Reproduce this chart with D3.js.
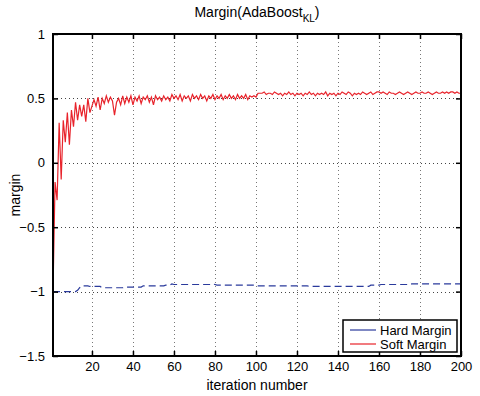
<!DOCTYPE html>
<html><head><meta charset="utf-8">
<script src="https://cdn.jsdelivr.net/npm/d3@7"></script>
<style>body{margin:0;background:#fff}svg{display:block;font-family:"Liberation Sans",Arial,sans-serif}</style>
</head><body>
<svg id="c" width="480" height="396"></svg>
<script>
const softMargin = [
-1.0,-0.15,-0.29,0.31,-0.13,0.33,0.16,0.39,0.14,0.41,0.28,0.47,0.33,0.45,0.36,0.45,0.32,0.50,0.39,0.44,
0.49,0.44,0.51,0.41,0.50,0.46,0.52,0.47,0.51,0.48,0.37,0.47,0.50,0.45,0.52,0.46,0.51,0.47,0.52,0.45,
0.51,0.48,0.52,0.46,0.51,0.49,0.52,0.47,0.51,0.45,0.52,0.49,0.51,0.48,0.52,0.49,0.51,0.48,0.53,0.50,
0.52,0.49,0.53,0.48,0.52,0.50,0.52,0.48,0.53,0.50,0.52,0.49,0.53,0.50,0.52,0.48,0.52,0.50,0.53,0.49,
0.52,0.50,0.53,0.49,0.52,0.50,0.53,0.50,0.52,0.49,0.53,0.50,0.52,0.50,0.53,0.49,0.52,0.51,0.52,0.51,
0.54,0.54,0.54,0.55,0.53,0.54,0.54,0.53,0.55,0.54,0.53,0.54,0.52,0.54,0.53,0.55,0.53,0.54,0.52,0.54,
0.53,0.54,0.52,0.54,0.53,0.55,0.53,0.54,0.52,0.54,0.53,0.54,0.53,0.55,0.52,0.54,0.53,0.54,0.52,0.54,
0.53,0.55,0.54,0.53,0.55,0.54,0.52,0.54,0.53,0.54,0.53,0.55,0.54,0.53,0.54,0.55,0.53,0.54,0.55,0.55,
0.54,0.55,0.54,0.53,0.55,0.54,0.54,0.53,0.54,0.55,0.54,0.53,0.54,0.55,0.54,0.53,0.54,0.55,0.54,0.54,
0.55,0.54,0.54,0.55,0.54,0.53,0.54,0.55,0.54,0.54,0.55,0.54,0.55,0.54,0.55,0.55,0.54,0.55,0.54,0.54
];
const hardMargin = [
-1.0,-1.0,-1.0,-1.0,-1.0,-1.0,-1.0,-1.0,-1.0,-1.0,-1.0,-1.0,-0.99,-0.97,-0.955,-0.955,-0.955,-0.955,-0.96,-0.96,
-0.96,-0.96,-0.96,-0.96,-0.97,-0.97,-0.97,-0.97,-0.97,-0.97,-0.97,-0.97,-0.97,-0.97,-0.97,-0.965,-0.965,-0.965,-0.965,-0.965,
-0.965,-0.965,-0.965,-0.965,-0.955,-0.955,-0.955,-0.955,-0.955,-0.955,-0.955,-0.955,-0.955,-0.955,-0.955,-0.95,-0.95,-0.95,-0.94,-0.945,
-0.945,-0.945,-0.945,-0.945,-0.945,-0.945,-0.945,-0.945,-0.945,-0.945,-0.945,-0.945,-0.945,-0.945,-0.945,-0.945,-0.945,-0.945,-0.94,-0.945,
-0.95,-0.95,-0.95,-0.95,-0.95,-0.95,-0.95,-0.95,-0.95,-0.95,-0.95,-0.95,-0.95,-0.95,-0.95,-0.95,-0.95,-0.95,-0.95,-0.95,
-0.955,-0.955,-0.955,-0.955,-0.955,-0.955,-0.955,-0.955,-0.955,-0.955,-0.955,-0.955,-0.955,-0.955,-0.955,-0.955,-0.955,-0.955,-0.955,-0.955,
-0.955,-0.955,-0.955,-0.955,-0.955,-0.96,-0.96,-0.96,-0.96,-0.96,-0.96,-0.96,-0.96,-0.96,-0.96,-0.96,-0.96,-0.96,-0.96,-0.96,
-0.96,-0.96,-0.96,-0.96,-0.96,-0.96,-0.96,-0.96,-0.96,-0.96,-0.96,-0.96,-0.96,-0.96,-0.96,-0.95,-0.95,-0.95,-0.95,-0.95,
-0.945,-0.945,-0.945,-0.945,-0.945,-0.945,-0.945,-0.945,-0.945,-0.945,-0.945,-0.945,-0.945,-0.945,-0.945,-0.94,-0.94,-0.94,-0.94,-0.94,
-0.94,-0.94,-0.94,-0.94,-0.94,-0.94,-0.94,-0.94,-0.94,-0.94,-0.94,-0.94,-0.94,-0.94,-0.94,-0.94,-0.94,-0.94,-0.94,-0.94
];
const xTicks = [20,40,60,80,100,120,140,160,180,200];
const yTicks = [-1.5,-1,-0.5,0,0.5,1];
const seriesNames = ["Hard Margin","Soft Margin"];
const seriesColors = ["#2a3a9c","#e8232b"];

const L=53,R=461,T=34,B=356;
const svg=d3.select("#c");
const x=d3.scaleLinear().domain([1,200]).range([L,R]);
const y=d3.scaleLinear().domain([-1.5,1]).range([B,T]);

// grid
const g=svg.append("g");
g.selectAll("line.vg").data(xTicks.filter(d=>d<200)).join("line")
 .attr("x1",d=>Math.round(x(d))+0.5).attr("x2",d=>Math.round(x(d))+0.5).attr("y1",T).attr("y2",B)
 .attr("stroke","#777").attr("stroke-dasharray","1,3");
g.selectAll("line.hg").data(yTicks.filter(d=>d>-1.5&&d<1)).join("line")
 .attr("y1",d=>Math.round(y(d))+0.5).attr("y2",d=>Math.round(y(d))+0.5).attr("x1",L).attr("x2",R)
 .attr("stroke","#444").attr("stroke-dasharray","1,3");

// series
const line=d3.line().x((d,i)=>x(i+1)).y(d=>y(d));
svg.append("path").datum(hardMargin).attr("d",line).attr("fill","none")
 .attr("stroke",seriesColors[0]).attr("stroke-width",1.2).attr("stroke-dasharray","7,4");
svg.append("path").datum(softMargin).attr("d",line).attr("fill","none")
 .attr("stroke",seriesColors[1]).attr("stroke-width",1.2);

// axes
const fs=13;
const xb=svg.append("g").attr("transform",`translate(0,${B})`)
 .call(d3.axisBottom(x).tickValues(xTicks).tickSizeInner(-5).tickSizeOuter(0).tickPadding(6));
const xt=svg.append("g").attr("transform",`translate(0,${T})`)
 .call(d3.axisTop(x).tickValues(xTicks).tickSizeInner(-5).tickSizeOuter(0).tickFormat(""));
const yl=svg.append("g").attr("transform",`translate(${L},0)`)
 .call(d3.axisLeft(y).tickValues(yTicks).tickSizeInner(-5).tickSizeOuter(0).tickPadding(8).tickFormat(d3.format("")));
const yr=svg.append("g").attr("transform",`translate(${R},0)`)
 .call(d3.axisRight(y).tickValues(yTicks).tickSizeInner(-5).tickSizeOuter(0).tickFormat(""));
[xb,xt,yl,yr].forEach(a=>{
 a.select(".domain").remove();
 a.selectAll("line").attr("stroke","#000").attr("stroke-width",1.5);
 a.selectAll("text").attr("font-size",fs).attr("font-family","Liberation Sans, Arial, sans-serif").attr("fill","#000");
});
svg.append("rect").attr("x",L).attr("y",T).attr("width",R-L).attr("height",B-T)
 .attr("fill","none").attr("stroke","#000").attr("stroke-width",2);

// labels
svg.append("text").attr("x",(L+R)/2).attr("y",390).attr("text-anchor","middle").attr("font-size",14).text("iteration number");
svg.append("text").attr("transform",`translate(20,${(T+B)/2}) rotate(-90)`).attr("text-anchor","middle").attr("font-size",14).text("margin");
const title=svg.append("text").attr("x",(L+R)/2).attr("y",17).attr("text-anchor","middle").attr("font-size",14);
title.append("tspan").text("Margin(AdaBoost");
title.append("tspan").attr("dy",5).attr("font-size",10).text("KL");
title.append("tspan").attr("dy",-5).text(")");

// legend
const lg=svg.append("g");
lg.append("rect").attr("x",343).attr("y",320).attr("width",114).attr("height",32).attr("fill","#fff").attr("stroke","#000").attr("stroke-width",1.5);
seriesNames.forEach((n,i)=>{
 const yy=330+i*14;
 lg.append("line").attr("x1",350).attr("x2",376).attr("y1",yy).attr("y2",yy).attr("stroke",seriesColors[i]).attr("stroke-width",1.2);
 lg.append("text").attr("x",380).attr("y",yy+4.5).attr("font-size",13).text(n);
});
</script>
</body></html>
